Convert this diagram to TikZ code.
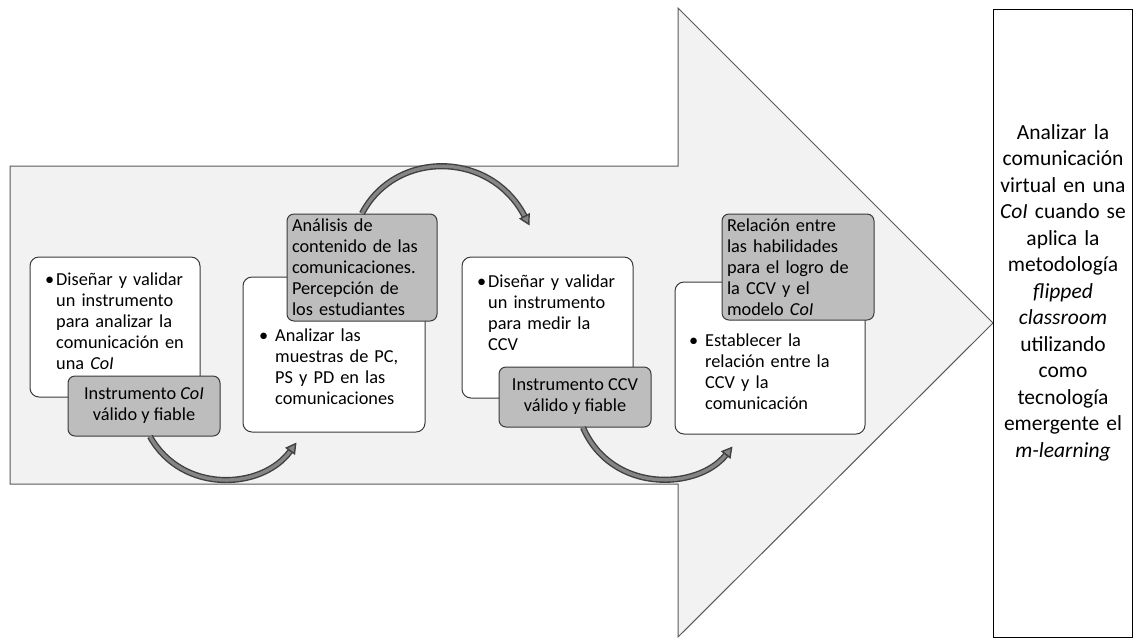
\documentclass[tikz,border=0pt]{standalone}
\usepackage{fontspec}
\setmainfont{Carlito}
\usetikzlibrary{arrows.meta,calc}
\definecolor{arrowfill}{HTML}{F2F2F2}
\definecolor{arrowline}{HTML}{595959}
\definecolor{boxline}{HTML}{3A3A3A}
\definecolor{grayfill}{HTML}{BDBDBD}
\definecolor{arcdark}{HTML}{404040}
\definecolor{arcmid}{HTML}{858585}
\newcommand\boxfont{\fontsize{18.3}{21}\selectfont}
\newcommand\goalfont{\fontsize{21.5}{26.5}\selectfont}
\begin{document}
\begin{tikzpicture}[x=1pt,y=-1pt,
  wbox/.style={draw=boxline, line width=1pt, fill=white, rounded corners=9pt, inner sep=0pt},
  gbox/.style={draw=boxline, line width=1pt, fill=grayfill, rounded corners=7pt, inner ysep=0pt, inner xsep=5pt, font=\boxfont},
  txt/.style={font=\boxfont, align=left, text width=175pt, inner sep=0pt},
  arc/.style={double=arcmid, double distance=3.4pt, line width=1.4pt, draw=arcdark,
    -{Triangle[length=11pt, width=12pt, fill=arcmid]}}
]
\useasboundingbox (0,0) rectangle (1139,641);
\fill[white] (0,0) rectangle (1139,641);
% big arrow
\draw[fill=arrowfill, draw=arrowline, line width=1pt]
  (10,166) -- (678,166) -- (678,8) -- (993,323) -- (678,637) -- (678,484) -- (10,484) -- cycle;
% goal box
\node[draw=black, line width=1pt, fill=white, minimum width=139pt, minimum height=628pt, inner sep=0pt] (goal) at (1062.5,323) {};
\node[font=\goalfont, align=center, text width=150pt, inner sep=0pt, anchor=base] (goalt) at (1063,139)
  {Analizar la\\comunicación\\virtual en una\\\textit{CoI} cuando se\\aplica la\\metodología\\\textit{flipped}\\\textit{classroom}\\utilizando\\como\\tecnología\\emergente el\\\textit{m-learning}};
% step 1
\node[wbox, minimum width=170pt, minimum height=140pt] (b1) at (115,327) {};
\node[txt, anchor=base west] (t1) at (56,285)
  {\leavevmode\llap{•\hspace{2pt}}Diseñar y validar\\un instrumento\\para analizar la\\comunicación en\\una \textit{CoI}};
\node[gbox, minimum width=152pt, minimum height=60pt, align=center] (g1) at (144,406)
  {Instrumento \textit{CoI}\\válido y fiable};
% step 2
\node[wbox, minimum width=182pt, minimum height=155pt] (b2) at (334,354.5) {};
\node[txt, anchor=base west] (t2) at (275,341)
  {\leavevmode\llap{•\hspace{7pt}}Analizar las\\muestras de PC,\\PS y PD en las\\comunicaciones};
\node[gbox, minimum width=150pt, minimum height=107pt, text width=140pt, align=left] (g2) at (362,267.5)
  {Análisis de\\contenido de las\\comunicaciones.\\Percepción de\\los estudiantes};
% step 3
\node[wbox, minimum width=171pt, minimum height=141pt] (b3) at (547.5,327.5) {};
\node[txt, anchor=base west] (t3) at (488,287)
  {\leavevmode\llap{•\hspace{2pt}}Diseñar y validar\\un instrumento\\para medir la\\CCV};
\node[gbox, minimum width=152pt, minimum height=60pt, align=center] (g3) at (575,397)
  {Instrumento CCV\\válido y fiable};
% step 4
\node[wbox, minimum width=190pt, minimum height=152pt] (b4) at (770,358) {};
\node[txt, anchor=base west] (t4) at (705,346)
  {\leavevmode\llap{•\hspace{7pt}}Establecer la\\relación entre la\\CCV y la\\comunicación};
\node[gbox, minimum width=152pt, minimum height=106pt, text width=142pt, align=left] (g4) at (798,267)
  {Relación entre\\las habilidades\\para el logro de\\la CCV y el\\modelo \textit{CoI}};
% curved connectors
\draw[arc] ($(g1.south)+(6,0)$) .. controls (182,494) and (262,490) .. ($(b2.south west)+(54,10)$);
\draw[arc] (g2.north) .. controls (395,150) and (490,150) .. ($(b3.north)+(-18,-31)$);
\draw[arc] ($(g3.south)+(8,0)$) .. controls (612,494) and (698,490) .. ($(b4.south west)+(58,12)$);
\end{tikzpicture}
\end{document}
